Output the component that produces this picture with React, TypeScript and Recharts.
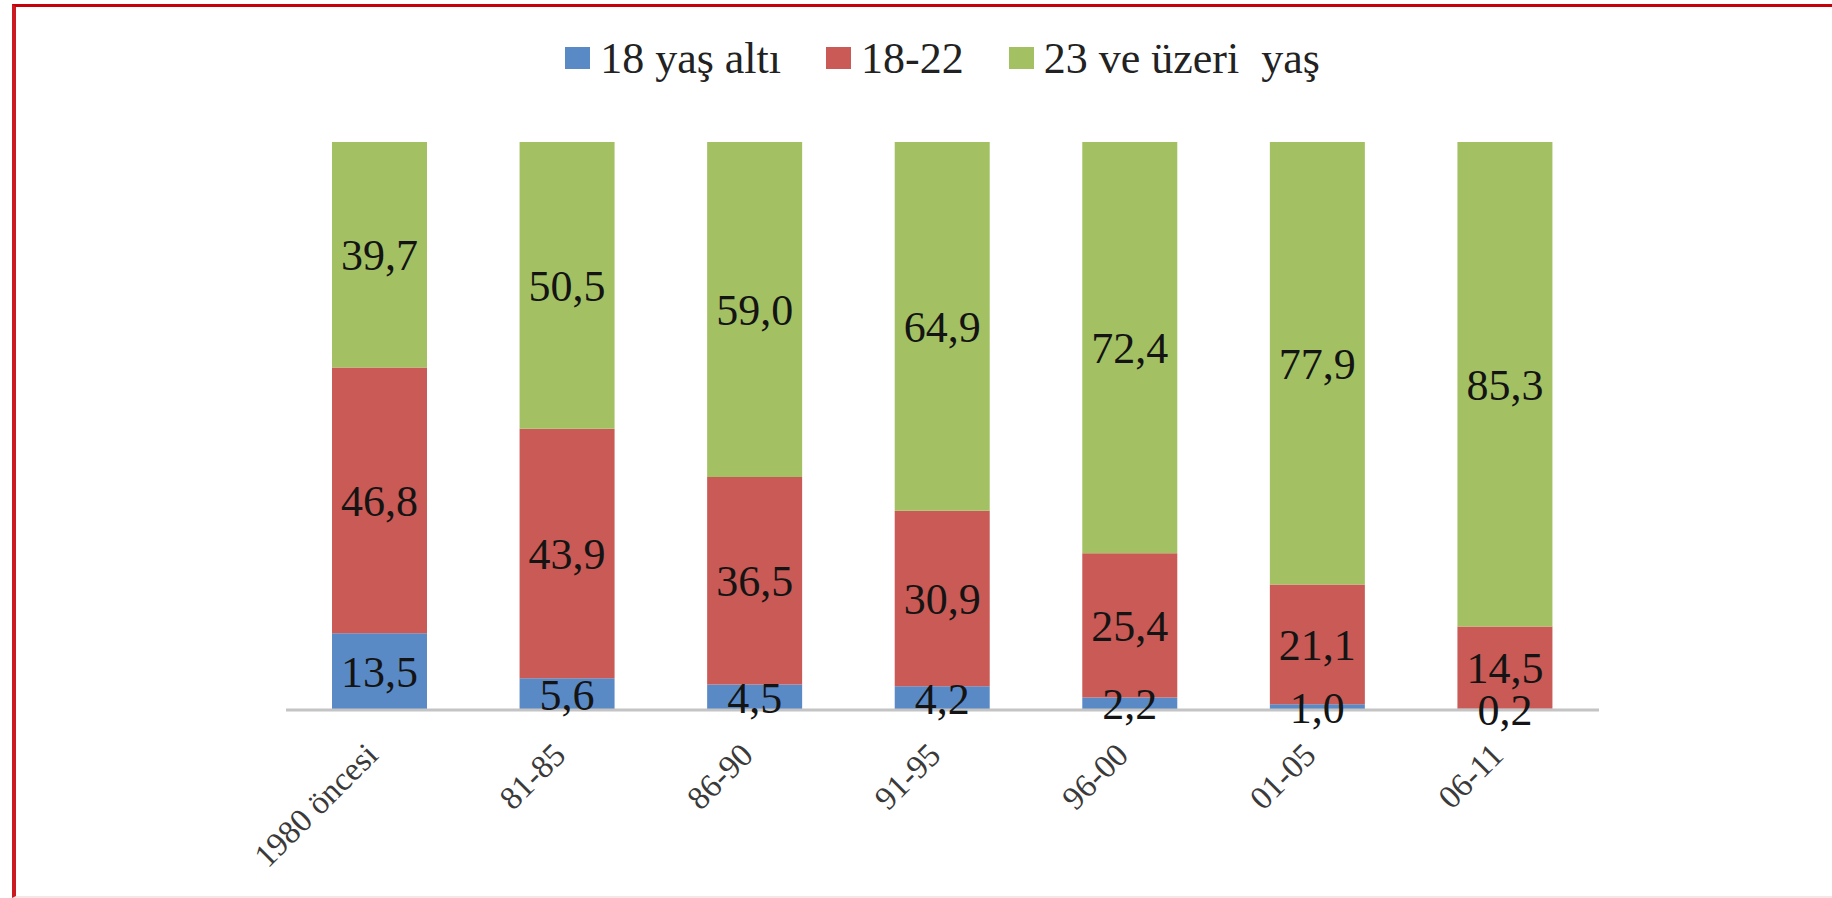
import React from 'react';
import { BarChart, Bar, XAxis, YAxis, Legend, LabelList } from 'recharts';

const categories = ['1980 öncesi', '81-85', '86-90', '91-95', '96-00', '01-05', '06-11'];
const under18 = [13.5, 5.6, 4.5, 4.2, 2.2, 1.0, 0.2];
const age18to22 = [46.8, 43.9, 36.5, 30.9, 25.4, 21.1, 14.5];
const over23 = [39.7, 50.5, 59.0, 64.9, 72.4, 77.9, 85.3];
const seriesNames = ['18 yaş altı', '18-22', '23 ve üzeri  yaş'];
const seriesKeys = ['a', 'b', 'c'];
const seriesColors = ['#5A8AC6', '#C95A55', '#A3C163'];

const data = categories.map((name, i) => ({
  name,
  a: under18[i],
  b: age18to22[i],
  c: over23[i],
}));

const FONT = '"Liberation Serif", "Times New Roman", serif';

const fmt = (v: any) => Number(v).toFixed(1).replace('.', ',');

const AngledTick = (props: any) => {
  const { x, y, payload } = props;
  return (
    <g transform={`translate(${x},${y + 47})`}>
      <text
        x={0}
        y={0}
        textAnchor="end"
        transform="rotate(-45)"
        fontFamily={FONT}
        fontSize={33}
        fill="#3a3a3a"
      >
        {payload.value}
      </text>
    </g>
  );
};

const LegendContent = () => (
  <div style={{ height: 109, width: '100%' }}>
    <div
      style={{
        display: 'flex',
        justifyContent: 'center',
        alignItems: 'center',
        height: 50,
        fontFamily: FONT,
        fontSize: 44,
        color: '#222',
      }}
    >
      {seriesNames.map((n, i) => (
        <div
          key={n}
          style={{ display: 'flex', alignItems: 'center', marginLeft: i === 0 ? 0 : 45 }}
        >
          <div style={{ width: 25, height: 22, background: seriesColors[i], marginRight: 10 }} />
          <span style={{ whiteSpace: 'pre', lineHeight: 'normal' }}>{n}</span>
        </div>
      ))}
    </div>
  </div>
);

export default function App() {
  return (
    <div style={{ position: 'absolute', left: 0, top: 0, width: 1832, height: 898, background: '#fff' }}>
      <div
        style={{
          position: 'absolute',
          left: 12,
          top: 4,
          right: 0,
          bottom: 0,
          borderTop: '3px solid #C4000A',
          borderLeft: '4px solid #CC1A22',
          borderBottom: '2px solid #F6E6E6',
          pointerEvents: 'none',
          zIndex: 2,
        }}
      />
      <BarChart
        width={1832}
        height={898}
        data={data}
        margin={{ top: 33, right: 233, left: 286, bottom: 38 }}
        barSize={95}
      >
        <XAxis
          dataKey="name"
          axisLine={{ stroke: '#C4C4C4', strokeWidth: 3 }}
          tickLine={false}
          tickSize={0}
          tickMargin={0}
          interval={0}
          height={150}
          tick={<AngledTick />}
        />
        <YAxis hide domain={[0, 100]} />
        <Legend verticalAlign="top" align="center" content={<LegendContent />} />
        {seriesKeys.map((k, i) => (
          <Bar
            key={k}
            dataKey={k}
            name={seriesNames[i]}
            stackId="s"
            fill={seriesColors[i]}
            isAnimationActive={false}
          >
            <LabelList
              dataKey={k}
              position="center"
              formatter={fmt}
              fontFamily={FONT}
              fontSize={44}
              fill="#141414"
            />
          </Bar>
        ))}
      </BarChart>
    </div>
  );
}
